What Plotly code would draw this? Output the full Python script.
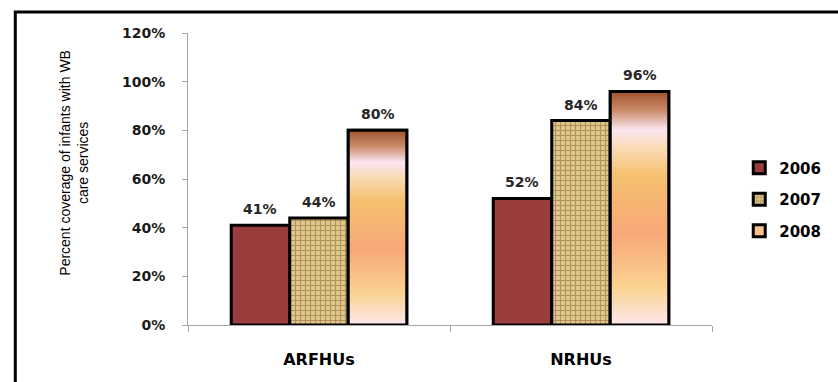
import plotly.graph_objects as go

categories = ["ARFHUs", "NRHUs"]
years = ["2006", "2007", "2008"]
v2006 = [0.41, 0.52]
v2007 = [0.44, 0.84]
v2008 = [0.80, 0.96]
y_title = "Percent coverage of infants with WB<br>care services"

BARGAP = 0.33
bw = (1 - BARGAP) / 3
font_bold = "DejaVu Sans"

fig = go.Figure()
fig.add_trace(go.Bar(name="2006", x=categories, y=v2006, legendgroup="a",
                     marker=dict(color="#9B3D3D", line=dict(color="black", width=3))))
fig.add_trace(go.Bar(name="2007", x=categories, y=v2007, legendgroup="b",
                     marker=dict(color="#DCC186", line=dict(color="black", width=3),
                                 pattern=dict(shape="+", fgcolor="#7E5C2C", bgcolor="#E0C78C",
                                              size=5, solidity=0.4))))
fig.add_trace(go.Bar(name="2008", x=categories, y=v2008, legendgroup="c",
                     marker=dict(color="#F9BF8C", line=dict(color="black", width=3))))

grad = [[0.0, "#FDE7EC"], [0.16, "#FAD391"], [0.39, "#F8A878"], [0.64, "#F5C06F"],
        [0.75, "#F9D9B0"], [0.835, "#FCE6F0"], [0.92, "#C98A6A"], [1.0, "#A0522D"]]
for i, v in enumerate(v2008):
    x0 = i + bw / 2
    x1 = i + 1.5 * bw
    fig.add_trace(go.Scatter(x=[x0, x1, x1, x0, x0], y=[0, 0, v, v, 0], xaxis="x2",
                             mode="lines", fill="toself", showlegend=False, hoverinfo="skip",
                             line=dict(color="black", width=3),
                             fillgradient=dict(type="vertical", colorscale=grad)))

allvals = [v2006, v2007, v2008]
for k, vals in enumerate(allvals):
    for i, v in enumerate(vals):
        fig.add_annotation(x=i + (k - 1) * bw, y=v, xref="x2", yref="y", text=f"{round(v*100)}%",
                           showarrow=False, yshift=16, yanchor="middle",
                           font=dict(family=font_bold, size=14, color="#262626", weight="bold"))

fig.add_annotation(x=-0.218, y=0.555, xref="paper", yref="paper", text=y_title, textangle=-90,
                   showarrow=False, xanchor="center", yanchor="middle",
                   font=dict(family="Liberation Sans", size=14, color="black"))

L, R, T, B = 188, 116, 33, 57
pw, ph = 838 - L - R, 382 - T - B
fig.add_shape(type="rect", xref="paper", yref="paper",
              x0=(12 - L) / pw, x1=(860 - L) / pw, y0=-(420 - 382 + B) / ph, y1=1 + (T - 12) / ph,
              line=dict(color="black", width=3), fillcolor="rgba(0,0,0,0)", layer="above")

fig.update_layout(
    width=838, height=382, barmode="group", bargap=BARGAP, bargroupgap=0,
    margin=dict(l=L, r=R, t=T, b=B),
    paper_bgcolor="white", plot_bgcolor="white",
    showlegend=True,
    legend=dict(x=1.052, y=0.43, xanchor="left", yanchor="middle", tracegroupgap=9,
                font=dict(family=font_bold, size=15, color="black", weight="bold"),
                itemwidth=30, bgcolor="rgba(0,0,0,0)"),
    xaxis=dict(type="category", range=[-0.5, 1.5], showline=True, linecolor="#A6A6A6", linewidth=1,
               ticks="outside", tickson="boundaries", ticklen=6, tickcolor="#A6A6A6",
               showgrid=False, ticklabelstandoff=20,
               tickfont=dict(family=font_bold, size=16, color="black", weight="bold")),
    xaxis2=dict(overlaying="x", range=[-0.5, 1.5], visible=False),
    yaxis=dict(range=[0, 1.2], dtick=0.2, tickformat=".0%", showline=True, linecolor="#A6A6A6",
               ticks="outside", ticklen=5, tickcolor="#A6A6A6", showgrid=False, zeroline=False,
               ticklabelstandoff=14,
               tickfont=dict(family=font_bold, size=14, color="#1a1a1a", weight="bold")),
)

fig.write_html("out.html")
